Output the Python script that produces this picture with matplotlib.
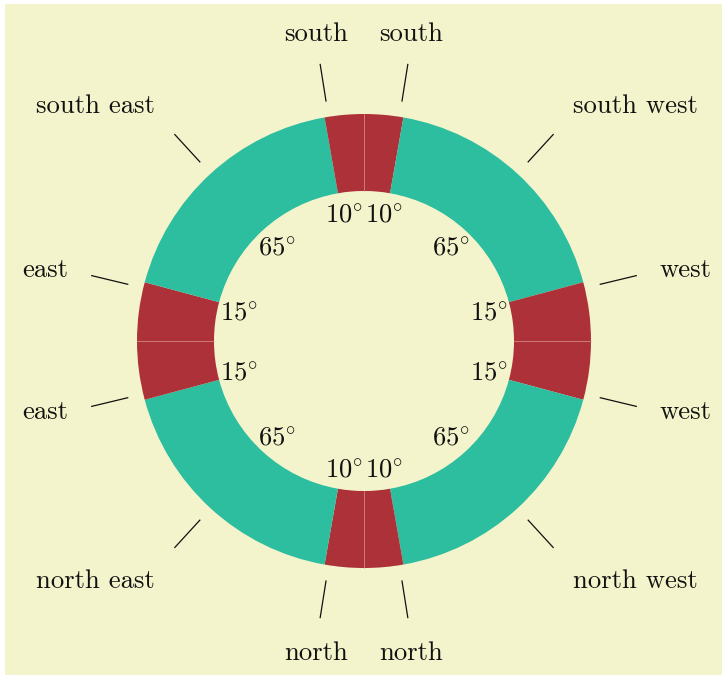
import numpy as np
import matplotlib.pyplot as plt
from matplotlib.patches import Wedge, Rectangle

plt.rcParams['font.family'] = ['cmr10', 'DejaVu Serif']
plt.rcParams['mathtext.fontset'] = 'cm'
plt.rcParams['axes.unicode_minus'] = False

# segment sizes in degrees, clockwise starting at 12 o'clock
angles = [10, 65, 15, 15, 65, 10, 10, 65, 15, 15, 65, 10]
directions = ['south', 'south west', 'west', 'west', 'north west', 'north',
              'north', 'north east', 'east', 'east', 'south east', 'south']

bg = '#f3f4cb'
red = '#ad3139'
teal = '#2dbd9f'

r_out = 227
r_in = 150
fs = 19.2

fig = plt.figure(figsize=(7.22, 6.75), dpi=100, facecolor='white')
fig.patches.append(Rectangle((5 / 722, 0), 1, 1 - 4 / 675, transform=fig.transFigure,
                             facecolor=bg, edgecolor='none', zorder=-10))
ax = fig.add_axes([0, 0, 1, 1])
ax.set_facecolor('none')
ax.patch.set_alpha(0)
ax.set_xlim(-364, 358)
ax.set_ylim(-334, 341)
ax.set_aspect('equal')
ax.axis('off')

start = 90.0
for i, (w, name) in enumerate(zip(angles, directions)):
    end = start - w
    col = teal if w > 20 else red
    ax.add_patch(Wedge((0, 0), r_out, end, start, width=r_out - r_in,
                       facecolor=col, edgecolor='none'))

    # thin seam where two red pieces meet
    nxt = angles[(i + 1) % len(angles)]
    if w <= 20 and nxt <= 20:
        te = np.radians(end)
        ax.plot([r_in * np.cos(te), r_out * np.cos(te)],
                [r_in * np.sin(te), r_out * np.sin(te)],
                color='#d89a8c', lw=0.5)

    # small wedges get their labels pushed away from the axis they touch
    if w > 20:
        a = (start + end) / 2
    elif start % 90 == 0:
        a = start - 0.9 * w
    else:
        a = end + 0.9 * w
    t = np.radians(a)
    c, s = np.cos(t), np.sin(t)

    ax.text(129 * c, 129 * s - 2.5, r'$%d^{\circ}$' % w, ha='center', va='center',
            fontsize=fs, color='#111111')

    ax.plot([243 * c, 280 * c], [243 * s, 280 * s], color='#111111', lw=0.9)
    ha = 'left' if c > 0.4 else ('right' if c < -0.4 else 'center')
    va = 'baseline' if s > 0.4 else ('top' if s < -0.4 else 'center')
    rl = 309 if (abs(c) > 0.4 and abs(s) > 0.4) else 304
    ax.text(rl * c, rl * s, name, ha=ha, va=va, fontsize=fs, color='#111111')

    start = end

fig.savefig('out.png', dpi=100, facecolor=fig.get_facecolor())
